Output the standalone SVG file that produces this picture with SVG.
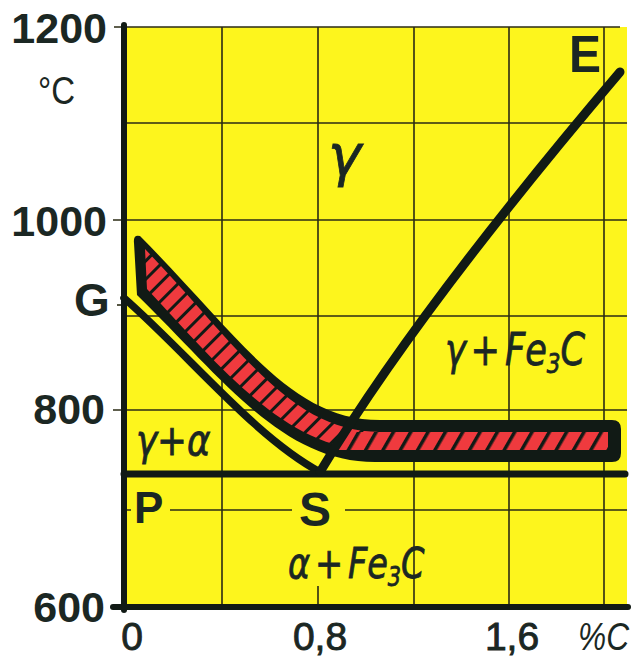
<svg xmlns="http://www.w3.org/2000/svg" width="641" height="659" viewBox="0 0 641 659">
<defs>
<style>
.ax{font-family:"Liberation Sans",Arial,sans-serif;font-weight:bold;fill:#1b2723}
.num{font-size:43px;text-anchor:end}
.bx{font-family:"Liberation Sans",Arial,sans-serif;font-size:39px;fill:#1b2723;text-anchor:middle;stroke:#1b2723;stroke-width:0.9}
.ph{font-family:"DejaVu Sans","Liberation Sans",sans-serif;font-style:italic;fill:#1b2723;stroke:#1b2723;stroke-width:0.8}
.grid{stroke:#2b2b14;stroke-width:1.6;fill:none}
.ln{stroke:#111a15;fill:none;stroke-linecap:round}
</style>
<pattern id="hc" width="13" height="13" patternUnits="userSpaceOnUse" patternTransform="rotate(45)"><rect width="13" height="13" fill="#ef3a3e"/><rect width="3" height="13" fill="#111a15"/></pattern>
<pattern id="hh" width="15" height="15" patternUnits="userSpaceOnUse" patternTransform="rotate(30)"><rect width="15" height="15" fill="#ef3a3e"/><rect width="3.5" height="15" fill="#111a15"/></pattern>
</defs>
<rect width="641" height="659" fill="#ffffff"/>
<rect x="124" y="27" width="503" height="580" fill="#fdf51d"/>
<g id="grid" class="grid">
<path d="M114,27H620M113,220H627M113,410H627M124,123H627M124,316H627M124,510H131M170,510H292M345,510H627"/>
<path d="M222,27V607M318,27V440M318,586V607M414,27V607M509,27V607M604,27V607"/>
<path d="M117,305H124"/>
</g>
<g id="band">
<path d="M140,236 C240,337 290,420 380,420 L612,420 Q621,420 621,429 L621,453 Q621,462 612,462 L375,462 C282,462 222,378 137,295 L134,243 Q133,234 140,236 Z" fill="#111a15"/>
<path d="M145,249 C240,348 290,432 380,432 L608,432 L608,450 L375,450 C288,451 223,370 147,289 Z" fill="url(#hc)"/>
<path d="M343,432 L608,432 L608,450 L333,450 Z" fill="url(#hh)"/>
</g>
<g id="connectors">
<path id="GS" class="ln" d="M124,298 C190,356 255,437 320,472" stroke-width="7.5"/>
<path id="PSK" class="ln" d="M124,474 L625,474" stroke-width="7"/>
<path id="SE" class="ln" d="M320,472 Q416,312 620,72" stroke-width="9"/>
</g>
<g id="axes" class="ln" stroke-linecap="butt">
<path d="M124,25V610" stroke-width="6"/>
<path d="M113,607H628" stroke-width="6"/>
</g>
<g id="labels">
<text class="ax num" x="107" y="43">1200</text>
<text x="38" y="104" font-family="Liberation Sans,Arial,sans-serif" font-size="38" fill="#1b2723" textLength="37" lengthAdjust="spacingAndGlyphs">°C</text>
<text class="ax num" x="107" y="236">1000</text>
<text class="ax num" x="105" y="424">800</text>
<text class="ax num" x="105" y="622">600</text>
<text class="ax" x="74" y="316" font-size="46">G</text>
<text class="ax" x="569" y="72" font-size="52" textLength="32" lengthAdjust="spacingAndGlyphs">E</text>
<text class="ax" x="134" y="523" font-size="44">P</text>
<text class="ax" x="299" y="526" font-size="48">S</text>
<text class="bx" x="132" y="650">0</text>
<text class="bx" x="320" y="650">0,8</text>
<text class="bx" x="512" y="650">1,6</text>
<text x="578" y="650" font-family="Liberation Sans,Arial,sans-serif" font-style="italic" fill="#1b2723" font-size="38" textLength="51" lengthAdjust="spacingAndGlyphs">%C</text>
<text class="ph" x="328" y="175" font-size="56">γ</text>
<text class="ph" transform="translate(445,365) scale(0.8,1)" font-size="44">γ<tspan dx="6">+</tspan><tspan dx="6">Fe</tspan><tspan font-size="27" dy="8">3</tspan><tspan dy="-8">C</tspan></text>
<text class="ph" transform="translate(136,455) scale(0.85,1)" font-size="42">γ+α</text>
<text class="ph" transform="translate(288,578) scale(0.8,1)" font-size="42">α<tspan dx="6">+</tspan><tspan dx="6">Fe</tspan><tspan font-size="26" dy="8">3</tspan><tspan dy="-8">C</tspan></text>
</g>
</svg>
